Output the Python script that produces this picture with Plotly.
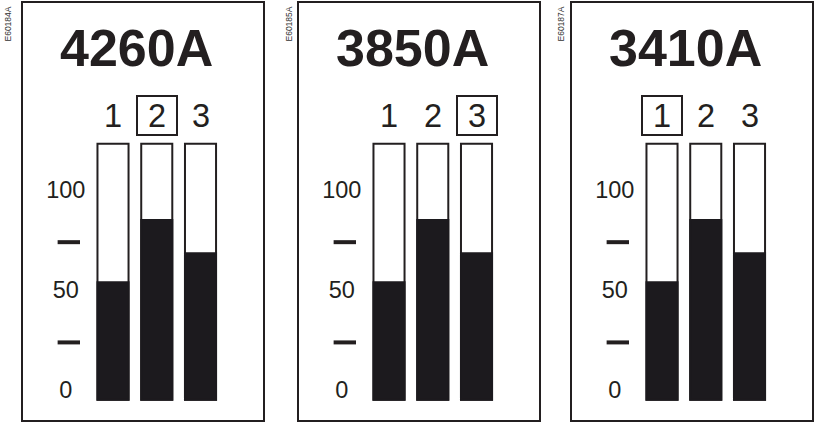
import plotly.graph_objects as go

# ---------------- data ----------------
PANEL_TITLES = ["4260A", "3850A", "3410A"]
SIDE_CODES = ["E60184A", "E60185A", "E60187A"]
CATEGORIES = [1, 2, 3]
CATEGORY_LABELS = ["1", "2", "3"]
SELECTED = [2, 3, 1]                 # boxed label in each panel
LEVELS_P1 = [55, 86, 69.5]
LEVELS_P2 = [55, 86, 69.5]
LEVELS_P3 = [55, 86, 69.5]
LEVELS = [LEVELS_P1, LEVELS_P2, LEVELS_P3]
SCALE_TICKS = [0, 50, 100]
SCALE_LABELS = ["0", "50", "100"]
MINOR_TICKS = [25, 75]

# ---------------- styling / geometry constants ----------------
W, H = 816, 423
INK = "#231f20"
FILL = "#1c1a1e"
FONT = "Liberation Sans, Arial, Helvetica, sans-serif"
PANEL_LEFT = [22, 298, 571]
PANEL_W = 242
PANEL_TOP, PANEL_BOTTOM = 2, 421
SIDE_OFFSET = [-15, -10, -11]
X_RANGE = [-1.08, 4.451]
Y_RANGE = [-14.2, 194.8]
BAR_WIDTH = 0.71
BAR_BASE = -3.6
BAR_TOP = 124.1
LABEL_X = -0.08
DASH_X = -0.01
LABEL_ROW_Y = 138.1

fig = go.Figure()
shapes = []
annotations = []
layout_axes = {}

for i in range(3):
    n = "" if i == 0 else str(i + 1)
    xa, ya = "x" + n, "y" + n
    L = PANEL_LEFT[i]
    x0, x1 = L / W, (L + PANEL_W) / W
    y0, y1 = 1 - PANEL_BOTTOM / H, 1 - PANEL_TOP / H

    layout_axes["xaxis" + n] = dict(domain=[x0, x1], range=X_RANGE, anchor=ya,
                                    visible=False, fixedrange=True)
    layout_axes["yaxis" + n] = dict(domain=[y0, y1], range=Y_RANGE, anchor=xa,
                                    visible=False, fixedrange=True)

    # capacity outlines
    fig.add_trace(go.Bar(
        x=CATEGORIES, y=[BAR_TOP - BAR_BASE] * len(CATEGORIES), base=BAR_BASE,
        width=BAR_WIDTH, xaxis=xa, yaxis=ya,
        marker=dict(color="white", line=dict(color=INK, width=2)),
        hoverinfo="skip", showlegend=False))
    # filled levels
    fig.add_trace(go.Bar(
        x=CATEGORIES, y=[v - BAR_BASE for v in LEVELS[i]], base=BAR_BASE,
        width=BAR_WIDTH, xaxis=xa, yaxis=ya,
        marker=dict(color=FILL, line=dict(color=FILL, width=2)),
        hoverinfo="skip", showlegend=False))
    # scale labels
    fig.add_trace(go.Scatter(
        x=[LABEL_X] * len(SCALE_TICKS), y=SCALE_TICKS, mode="text",
        text=SCALE_LABELS, textposition="middle center",
        textfont=dict(family=FONT, size=23.5, color=INK),
        xaxis=xa, yaxis=ya, hoverinfo="skip", showlegend=False))
    # scale dashes
    fig.add_trace(go.Scatter(
        x=[DASH_X] * len(MINOR_TICKS), y=MINOR_TICKS, mode="markers",
        marker=dict(symbol="line-ew", size=16, color=INK,
                    line=dict(width=4, color=INK)),
        xaxis=xa, yaxis=ya, hoverinfo="skip", showlegend=False))

    # category labels
    for c, lab in zip(CATEGORIES, CATEGORY_LABELS):
        sel = (c == SELECTED[i])
        annotations.append(dict(
            x=c, y=LABEL_ROW_Y, xref=xa, yref=ya, text=lab, showarrow=False,
            xanchor="center", yanchor="middle", width=38, height=37,
            font=dict(family=FONT, size=32.5, color=INK),
            bordercolor=INK if sel else "rgba(0,0,0,0)",
            borderwidth=2, borderpad=0))

    # panel title
    annotations.append(dict(
        x=(L + 114.5) / W, y=1 - 47.5 / H, xref="paper", yref="paper",
        text="<b>%s</b>" % PANEL_TITLES[i], showarrow=False,
        xanchor="center", yanchor="middle",
        font=dict(family=FONT, size=52, color=INK)))

    # side code
    annotations.append(dict(
        x=(L + SIDE_OFFSET[i]) / W, y=1 - 24.5 / H, xref="paper", yref="paper",
        text=SIDE_CODES[i], showarrow=False, textangle=-90,
        xanchor="center", yanchor="middle",
        font=dict(family=FONT, size=8.5, color="#333333")))

    # panel frame
    shapes.append(dict(type="rect", xref="paper", yref="paper",
                       x0=x0, x1=x1, y0=y0, y1=y1,
                       line=dict(color=INK, width=2), fillcolor="rgba(0,0,0,0)"))

fig.update_layout(
    width=W, height=H, margin=dict(l=0, r=0, t=0, b=0),
    paper_bgcolor="white", plot_bgcolor="white",
    barmode="overlay", showlegend=False,
    shapes=shapes, annotations=annotations, **layout_axes)

fig.write_html("out.html", config={"displayModeBar": False, "staticPlot": True},
               post_script="document.body.style.margin='0';document.body.style.overflow='hidden';")
